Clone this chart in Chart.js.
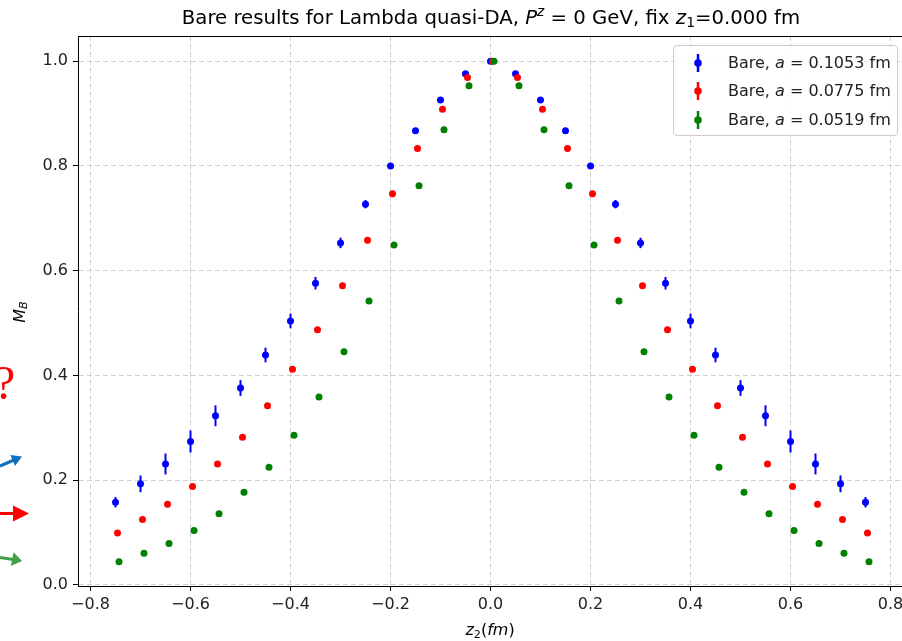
<!DOCTYPE html>
<html>
<head>
<meta charset="utf-8">
<script src="https://cdn.jsdelivr.net/npm/chart.js@4.4.1/dist/chart.umd.min.js"></script>
<style>
  html, body { margin: 0; padding: 0; background: #fff; overflow: hidden; }
  #wrap { position: relative; width: 902px; height: 641px; overflow: hidden; background: #fff; }
  #c { position: absolute; left: 0; top: 0; }
  .txt { position: absolute; font-family: "DejaVu Sans", sans-serif; color: #000; white-space: nowrap; }
  #title { left: 0; width: 982px; top: 6px; line-height: 24px; font-size: 19.7px; text-align: center; }
  #xlabel { left: 390px; width: 200px; top: 620px; line-height: 20px; font-size: 16px; text-align: center; }
  #ylabel { left: 19px; top: 312px; font-size: 16px; transform: translate(-50%, -50%) rotate(-90deg); }
  sup, sub { font-size: 70%; line-height: 0; }
  sup { vertical-align: 0.55em; }
  sub { vertical-align: -0.25em; }
  #legend { position: absolute; left: 673px; top: 45px; width: 223px; height: 89px; border: 1px solid #cccccc;
            border-radius: 4px; background: rgba(255,255,255,0.85); }
  .lrow { position: absolute; left: 0; height: 20px; width: 223px; }
  .lrow svg { position: absolute; left: 16px; top: -1px; }
  .lrow span { position: absolute; left: 54px; top: 0; line-height: 20px; font-size: 16px; color: #222; font-family: "DejaVu Sans", sans-serif; }
  #qmark { position: absolute; left: -6px; top: 353px; font-family: "Liberation Serif", serif; font-size: 48px; color: #ff0000; line-height: 60px; }
  #arrows { position: absolute; left: 0; top: 0; }
</style>
</head>
<body>
<div id="wrap">
  <canvas id="c" width="910" height="641"></canvas>
  <div id="title" class="txt">Bare results for Lambda quasi-DA, <i>P</i><sup><i>z</i></sup> = 0 GeV, fix <i>z</i><sub>1</sub>=0.000 fm</div>
  <div id="xlabel" class="txt"><i>z</i><sub>2</sub>(<i>fm</i>)</div>
  <div id="ylabel" class="txt"><i>M</i><sub><i>B</i></sub></div>
  <div id="legend"></div>
  <div id="qmark">?</div>
  <svg id="arrows" width="40" height="641">
    <line x1="0" y1="466" x2="14" y2="460" stroke="#1070c0" stroke-width="3"/>
    <polygon points="22,456.5 15,466 10.4,455" fill="#1070c0"/>
    <line x1="0" y1="513.5" x2="15" y2="513.5" stroke="#ff0000" stroke-width="3"/>
    <polygon points="29,513.5 13,505.5 13,521.5" fill="#ff0000"/>
    <line x1="0" y1="557.5" x2="13" y2="559.5" stroke="#43a047" stroke-width="3"/>
    <polygon points="22,561 10.9,566 13.5,552.2" fill="#43a047"/>
  </svg>
</div>
<script>
// ---------- data ----------
const z2 = [-0.75,-0.70,-0.65,-0.60,-0.55,-0.50,-0.45,-0.40,-0.35,-0.30,-0.25,-0.20,-0.15,-0.10,-0.05,0.00,
            0.05,0.10,0.15,0.20,0.25,0.30,0.35,0.40,0.45,0.50,0.55,0.60,0.65,0.70,0.75];
// small horizontal shift of each series (as in the plot)
const shiftBlue = 0.000;
const shiftRed = 0.004;
const shiftGreen = 0.007;

const seriesNames = ['Bare, a = 0.1053 fm', 'Bare, a = 0.0775 fm', 'Bare, a = 0.0519 fm'];
const latticeA = ['0.1053', '0.0775', '0.0519'];

const blueM = [0.158,0.193,0.231,0.274,0.323,0.376,0.439,0.504,0.576,0.653,0.727,0.800,0.867,0.926,0.976,1.000,
               0.976,0.926,0.867,0.800,0.727,0.653,0.576,0.504,0.439,0.376,0.323,0.274,0.231,0.193,0.158];
const blueErr = [0.010,0.016,0.020,0.021,0.020,0.015,0.014,0.014,0.012,0.010,0.008,0.006,0.005,0.004,0.003,0.000,
                 0.003,0.004,0.005,0.006,0.008,0.010,0.012,0.014,0.014,0.015,0.020,0.021,0.020,0.016,0.010];

const redM = [0.099,0.125,0.154,0.188,0.231,0.282,0.342,0.412,0.487,0.571,0.658,0.747,0.833,0.908,0.969,1.000,
              0.969,0.908,0.833,0.747,0.658,0.571,0.487,0.412,0.342,0.282,0.231,0.188,0.154,0.125,0.099];
const redErr = [0.005,0.005,0.005,0.005,0.004,0.004,0.004,0.003,0.003,0.003,0.003,0.002,0.002,0.002,0.001,0.000,
                0.001,0.002,0.002,0.002,0.003,0.003,0.003,0.003,0.004,0.004,0.004,0.005,0.005,0.005,0.005];

const greenM = [0.0445,0.0605,0.079,0.104,0.136,0.177,0.2245,0.286,0.359,0.445,0.542,0.649,0.762,0.869,0.953,1.000,
                0.953,0.869,0.762,0.649,0.542,0.445,0.359,0.286,0.2245,0.177,0.136,0.104,0.079,0.0605,0.0445];
const greenErr = [0.002,0.002,0.002,0.002,0.002,0.002,0.002,0.002,0.002,0.002,0.002,0.001,0.001,0.001,0.001,0.000,
                  0.001,0.001,0.001,0.001,0.002,0.002,0.002,0.002,0.002,0.002,0.002,0.002,0.002,0.002,0.002];

const xTicks = [-0.8,-0.6,-0.4,-0.2,0.0,0.2,0.4,0.6,0.8];
const xTickLabels = ['\u22120.8','\u22120.6','\u22120.4','\u22120.2','0.0','0.2','0.4','0.6','0.8'];
const yTicks = [0.0,0.2,0.4,0.6,0.8,1.0];
const yTickLabels = ['0.0','0.2','0.4','0.6','0.8','1.0'];

// ---------- build ----------
const colors = ['#0000ff', '#ff0000', '#008000'];
const shifts = [shiftBlue, shiftRed, shiftGreen];
const values = [blueM, redM, greenM];
const errors = [blueErr, redErr, greenErr];

const datasets = values.map((arr, s) => ({
  label: seriesNames[s],
  data: z2.map((z, i) => ({ x: z + shifts[s], y: arr[i], e: errors[s][i] })),
  showLine: false,
  pointRadius: 3.5,
  pointBorderWidth: 0,
  pointBackgroundColor: colors[s],
  borderColor: colors[s],
  backgroundColor: colors[s],
  order: 3 - s
}));

const errorBars = {
  id: 'errorBars',
  beforeDatasetDraw(chart, args) {
    const ds = chart.data.datasets[args.index];
    const xs = chart.scales.x, ys = chart.scales.y;
    const ctx = chart.ctx;
    ctx.save();
    ctx.strokeStyle = ds.borderColor;
    ctx.lineWidth = 2;
    ds.data.forEach(p => {
      if (!p.e) return;
      const px = xs.getPixelForValue(p.x);
      ctx.beginPath();
      ctx.moveTo(px, ys.getPixelForValue(p.y - p.e));
      ctx.lineTo(px, ys.getPixelForValue(p.y + p.e));
      ctx.stroke();
    });
    ctx.restore();
  },
  afterDatasetsDraw(chart) {
    const a = chart.chartArea, ctx = chart.ctx;
    ctx.save();
    ctx.strokeStyle = '#000';
    ctx.lineWidth = 1;
    ctx.beginPath();
    ctx.moveTo(a.left, Math.round(a.top) + 0.5);
    ctx.lineTo(a.right + 20, Math.round(a.top) + 0.5);
    ctx.stroke();
    ctx.restore();
  },
  afterDraw(chart) {
    const a = chart.chartArea, ctx = chart.ctx;
    const yb = chart.scales.x._borderValue;
    ctx.save();
    ctx.strokeStyle = '#000';
    ctx.lineWidth = 1;
    ctx.beginPath();
    ctx.moveTo(a.right - 2, Math.round(yb) + 0.5);
    ctx.lineTo(a.right + 20, Math.round(yb) + 0.5);
    ctx.stroke();
    ctx.restore();
  }
};

const tickFont = { family: 'DejaVu Sans', size: 16 };

new Chart(document.getElementById('c'), {
  type: 'scatter',
  data: { datasets },
  options: {
    responsive: false,
    animation: false,
    devicePixelRatio: 1,
    events: [],
    layout: { padding: { left: 0, top: 36, right: 5, bottom: 0 } },
    plugins: { legend: { display: false }, title: { display: false }, tooltip: { enabled: false } },
    scales: {
      x: {
        type: 'linear', min: -0.825, max: 0.829,
        afterBuildTicks: s => { s.ticks = xTicks.map(v => ({ value: v })); },
        afterFit: s => { s.height = 55; },
        ticks: { autoSkip: false, maxRotation: 0, padding: 4, color: '#222', font: tickFont,
                 callback: (v, i) => xTickLabels[xTicks.indexOf(v)] ?? '' },
        grid: { color: '#d0d0d0', lineWidth: 1, tickColor: '#000', tickLength: 5, tickWidth: 1, drawTicks: true },
        border: { display: true, color: '#000', width: 1, dash: [5, 3] }
      },
      y: {
        type: 'linear', min: -0.002, max: 1.048,
        afterBuildTicks: s => { s.ticks = yTicks.map(v => ({ value: v })); },
        afterFit: s => { s.width = 78; },
        ticks: { autoSkip: false, padding: 5, color: '#222', font: tickFont,
                 callback: (v) => yTickLabels[yTicks.findIndex(t => Math.abs(t - v) < 1e-9)] ?? '' },
        grid: { color: '#d0d0d0', lineWidth: 1, tickColor: '#000', tickLength: 5, tickWidth: 1, drawTicks: true },
        border: { display: true, color: '#000', width: 1, dash: [5, 3] }
      }
    }
  },
  plugins: [errorBars]
});

// ---------- legend (HTML) ----------
const legend = document.getElementById('legend');
const rowTops = [7, 35, 64];
latticeA.forEach((a, s) => {
  const row = document.createElement('div');
  row.className = 'lrow';
  row.style.top = rowTops[s] + 'px';
  row.innerHTML =
    `<svg width="16" height="22"><line x1="8" y1="2" x2="8" y2="20" stroke="${colors[s]}" stroke-width="2.5"/>` +
    `<circle cx="8" cy="11" r="3.8" fill="${colors[s]}"/></svg>` +
    `<span>Bare, <i>a</i> = ${a} fm</span>`;
  legend.appendChild(row);
});
</script>
</body>
</html>
